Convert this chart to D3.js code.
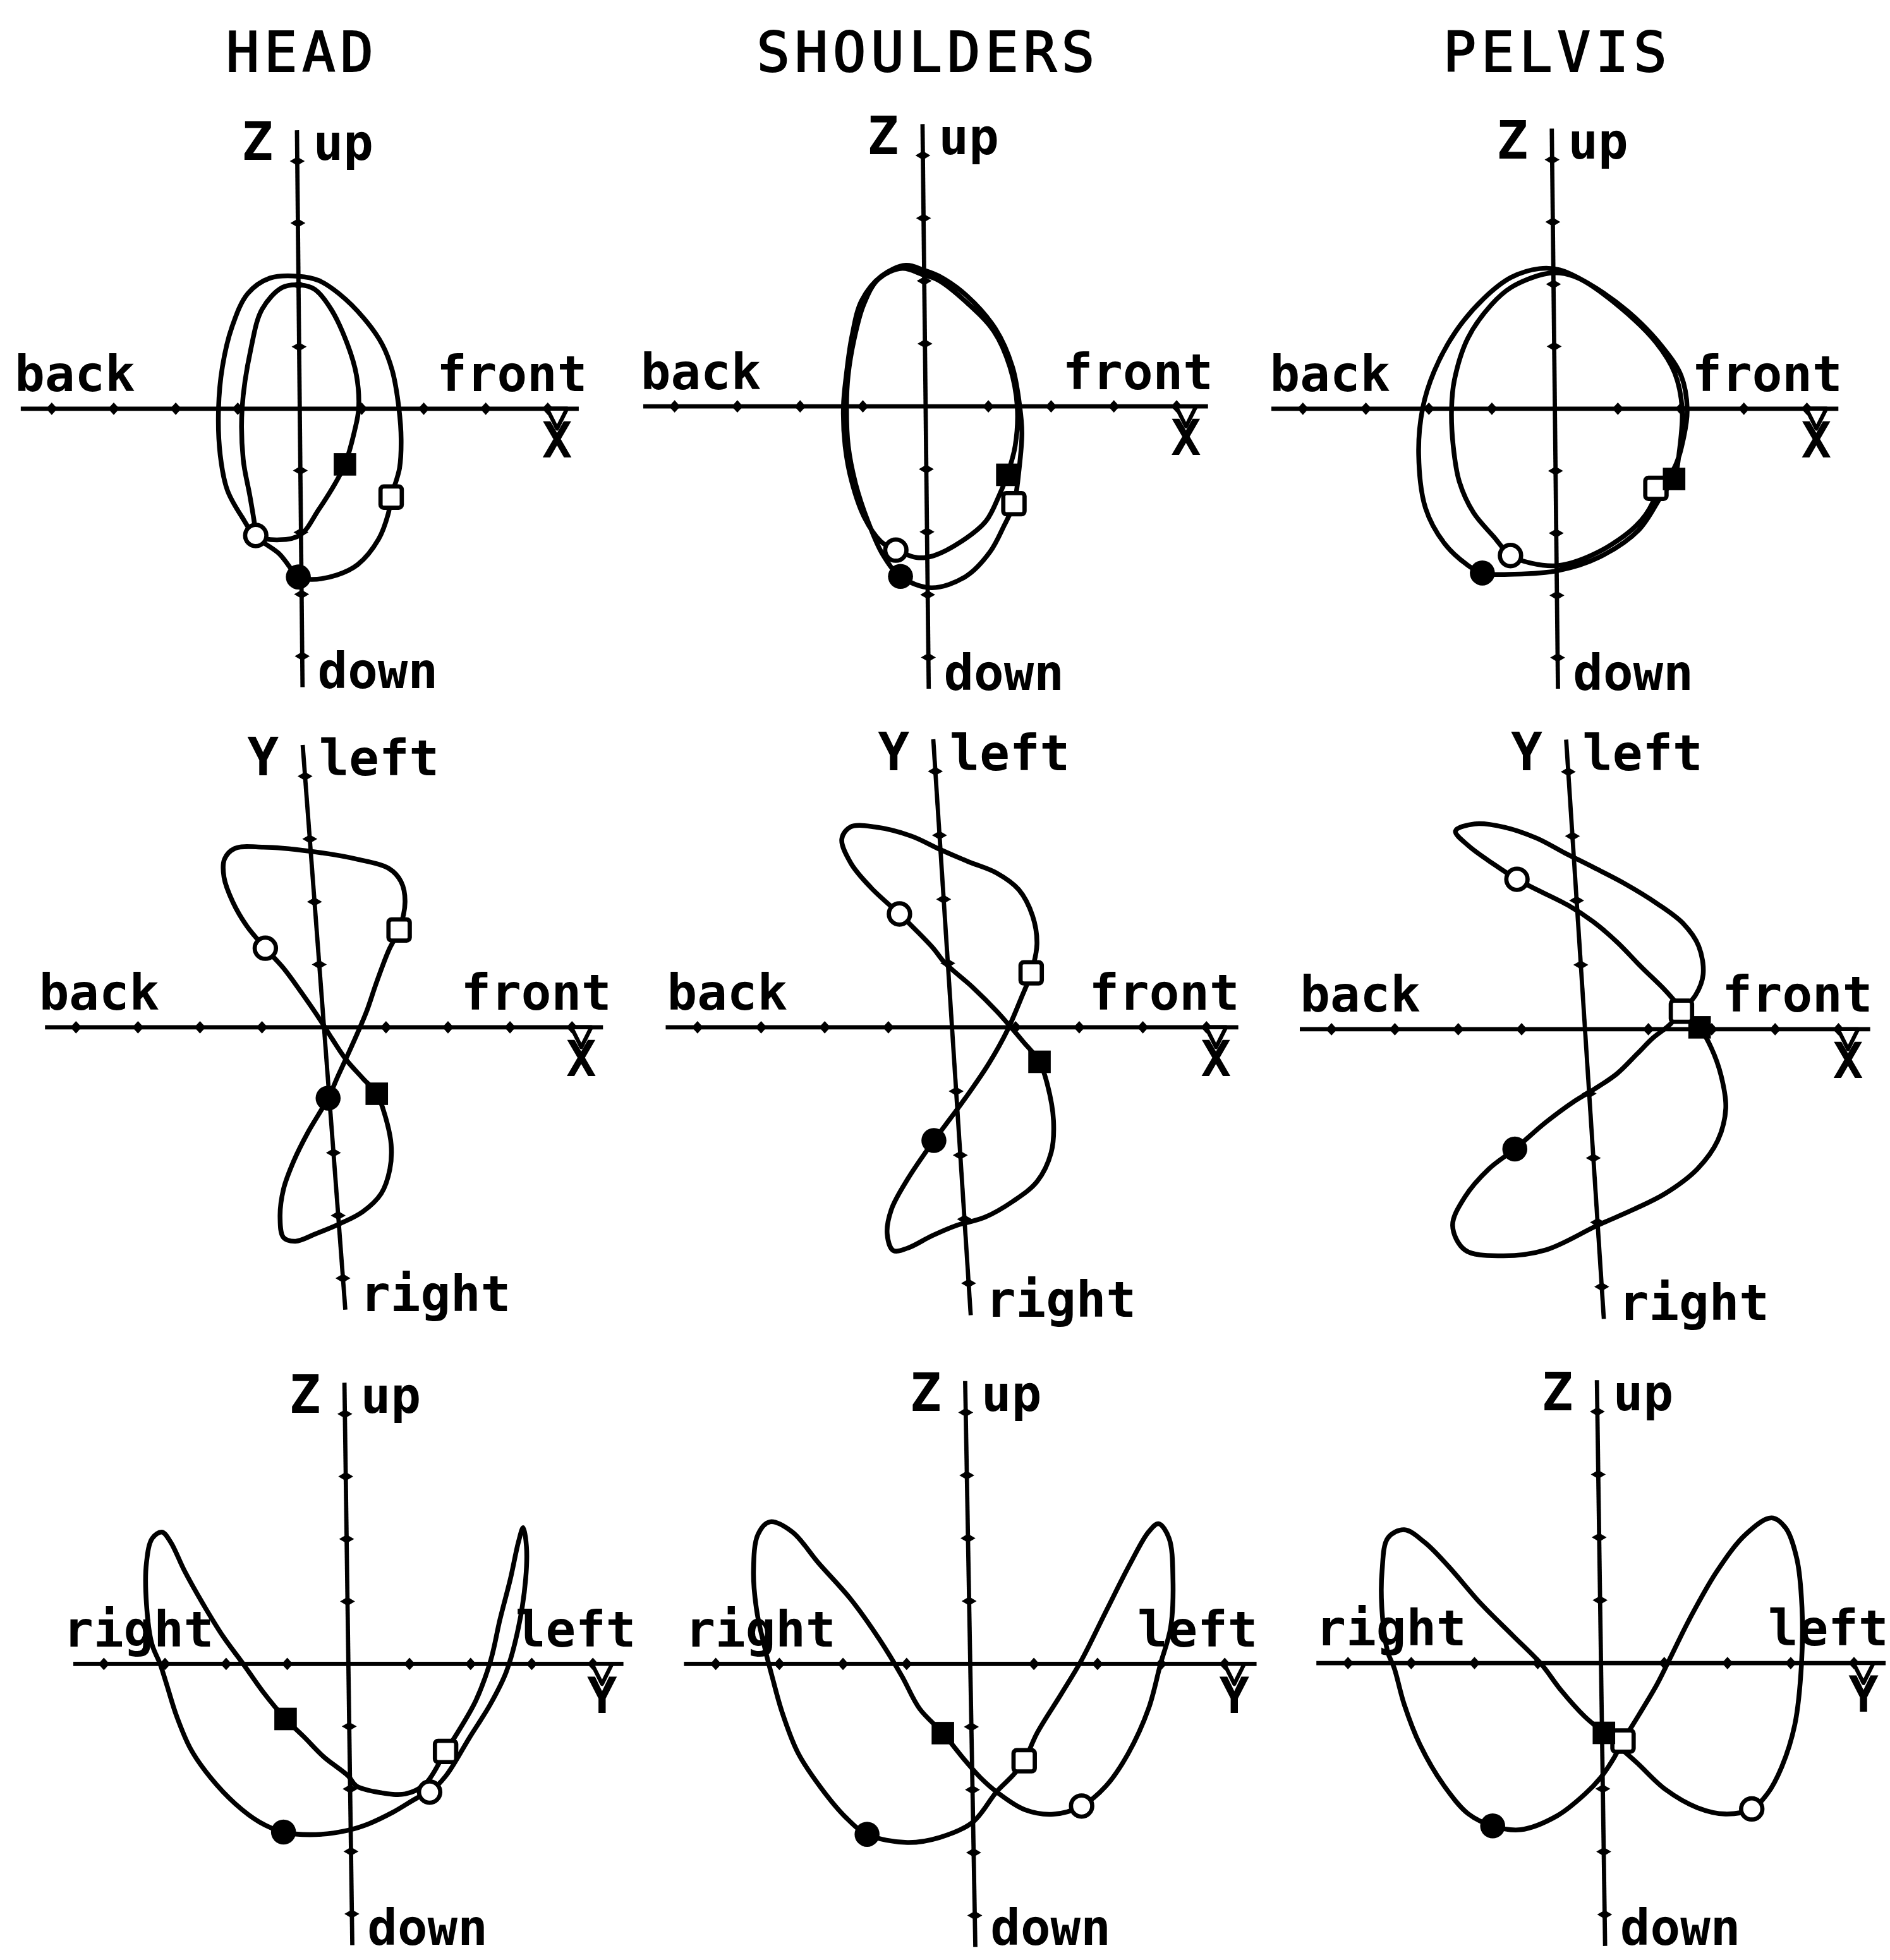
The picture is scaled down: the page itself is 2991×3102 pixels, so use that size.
<!DOCTYPE html>
<html>
<head>
<meta charset="utf-8">
<script src="https://cdn.jsdelivr.net/npm/d3@7"></script>
<style>
  html, body { margin: 0; padding: 0; background: #fff; }
  svg { display: block; }
</style>
</head>
<body>
<svg id="fig" width="2991" height="3102" viewBox="0 0 1512 1568"></svg>
<script>
// ---- labels ---------------------------------------------------------------
const columnTitles = ["HEAD", "SHOULDERS", "PELVIS"];
// wording of the axes for each projection plane (one row per plane)
const planeLeft   = ["back", "back", "right"];
const planeRight  = ["front", "front", "left"];
const planeTopKey = ["Z", "Y", "Z"];
const planeTop    = ["up", "left", "up"];
const planeBottom = ["down", "right", "down"];
const planeEndKey = ["X", "X", "Y"];
const tickValues  = [-4, -3, -2, -1, 1, 2, 3, 4];

// ---- trajectories, in axis units (one unit = one tick) ----------------------
// sagittal plane (X forward, Z up)
const headXZ = [
  [-0.05,-2.72],[0.16,-2.76],[0.57,-2.69],[0.91,-2.52],[1.25,-2.11],[1.41,-1.70],[1.46,-1.43],
  [1.60,-0.96],[1.63,-0.50],[1.60,0.00],[1.50,0.61],[1.34,1.04],[1.05,1.46],[0.65,1.86],[0.33,2.07],[0.00,2.14],
  [-0.46,2.11],[-0.82,1.86],[-1.08,1.32],[-1.24,0.68],[-1.31,0.00],[-1.29,-0.75],[-1.18,-1.32],[-0.95,-1.75],
  [-0.73,-2.05],[-0.35,-2.12],[-0.01,-2.04],[0.29,-1.63],[0.57,-1.19],[0.72,-0.90],
  [0.88,-0.36],[0.95,0.00],[0.92,0.54],[0.78,1.04],[0.52,1.61],[0.26,1.93],[0.03,2.00],
  [-0.26,1.96],[-0.59,1.61],[-0.78,0.96],[-0.93,0.00],[-0.92,-0.82],[-0.82,-1.40],[-0.75,-1.85],
  [-0.73,-2.05],[-0.35,-2.35],[-0.12,-2.65]
];
const headXZMarks = [["fc",-0.05,-2.72],["os",1.46,-1.43],["oc",-0.73,-2.05],["fs",0.72,-0.90]];

const shouldersXZ = [
  [-0.43,-2.71],[0.06,-2.89],[0.61,-2.71],[1.00,-2.32],[1.23,-1.90],[1.39,-1.55],[1.48,-0.99],[1.53,-0.42],
  [1.50,0.00],[1.39,0.63],[1.13,1.23],[0.68,1.76],[0.23,2.08],[0.00,2.17],[-0.29,2.25],[-0.68,2.08],
  [-1.00,1.69],[-1.16,1.13],[-1.26,0.49],[-1.31,0.00],[-1.29,-0.63],[-1.19,-1.20],[-1.00,-1.76],[-0.74,-2.15],
  [-0.50,-2.29],[-0.16,-2.41],[0.10,-2.38],[0.55,-2.15],[0.94,-1.83],[1.16,-1.41],[1.29,-1.09],[1.42,-0.63],
  [1.46,0.00],[1.35,0.63],[1.10,1.20],[0.68,1.65],[0.23,2.01],[-0.02,2.10],[-0.35,2.20],[-0.73,2.03],
  [-0.97,1.62],[-1.13,1.06],[-1.23,0.49],[-1.26,0.00],[-1.24,-0.63],[-1.13,-1.23],[-0.94,-1.83],[-0.71,-2.36]
];
const shouldersXZMarks = [["fc",-0.43,-2.71],["os",1.39,-1.55],["oc",-0.50,-2.29],["fs",1.29,-1.09]];

const pelvisXZ = [
  [-0.73,-2.36],[-0.41,-2.48],[0.03,-2.52],[0.67,-2.30],[1.27,-1.88],[1.53,-1.52],[1.59,-1.28],[1.88,-0.96],
  [2.04,-0.46],[2.10,0.00],[2.01,0.53],[1.72,0.99],[1.18,1.56],[0.54,2.02],[0.10,2.23],[-0.22,2.25],
  [-0.67,2.11],[-1.11,1.77],[-1.56,1.24],[-1.91,0.60],[-2.10,0.00],[-2.17,-0.74],[-2.07,-1.60],[-1.78,-2.16],
  [-1.43,-2.50],[-1.18,-2.64],[-0.67,-2.66],[0.03,-2.60],[0.67,-2.39],[1.31,-1.95],[1.69,-1.38],[1.88,-1.13],
  [1.97,-0.67],[2.02,0.00],[1.91,0.57],[1.62,1.06],[1.05,1.63],[0.41,2.09],[0.10,2.18],[-0.16,2.16],
  [-0.67,1.95],[-0.99,1.67],[-1.37,1.13],[-1.59,0.46],[-1.64,0.00],[-1.62,-0.60],[-1.53,-1.17],[-1.31,-1.67],
  [-0.99,-2.06]
];
const pelvisXZMarks = [["fc",-1.18,-2.64],["os",1.59,-1.28],["oc",-0.73,-2.36],["fs",1.88,-1.13]];

// horizontal plane (X forward, Y left)
const headXY = [
  [-0.85,1.26],[-0.58,0.94],[-0.32,0.55],[-0.06,0.13],[0.12,-0.19],[0.32,-0.52],[0.56,-0.81],[0.77,-1.06],
  [0.88,-1.42],[0.94,-1.87],[0.89,-2.26],[0.72,-2.65],[0.40,-2.94],[0.02,-3.13],[-0.38,-3.29],[-0.72,-3.41],
  [-0.91,-3.35],[-0.94,-3.03],[-0.85,-2.58],[-0.65,-2.13],[-0.39,-1.68],[-0.02,-1.13],[0.17,-0.77],[0.36,-0.42],
  [0.55,-0.06],[0.71,0.26],[0.90,0.71],[1.14,1.23],[1.33,1.55],[1.46,2.00],[1.42,2.32],[1.24,2.53],
  [0.73,2.68],[-0.05,2.81],[-0.76,2.87],[-1.22,2.85],[-1.40,2.68],[-1.43,2.39],[-1.32,2.00],[-1.12,1.61]
];
const headXYMarks = [["oc",-0.85,1.26],["fs",0.77,-1.06],["fc",-0.02,-1.13],["os",1.33,1.55]];

const shouldersXY = [
  [-0.71,1.77],[-0.47,1.52],[-0.21,1.23],[-0.05,1.01],[0.36,0.63],[0.72,0.25],[0.95,-0.03],[1.10,-0.22],
  [1.34,-0.54],[1.44,-0.89],[1.50,-1.46],[1.43,-1.96],[1.18,-2.41],[0.78,-2.72],[0.32,-2.97],[-0.14,-3.10],
  [-0.53,-3.26],[-0.92,-3.45],[-1.15,-3.49],[-1.23,-3.23],[-1.14,-2.85],[-0.85,-2.37],[-0.40,-1.77],[-0.09,-1.39],
  [0.19,-1.04],[0.54,-0.57],[0.86,-0.06],[1.11,0.44],[1.30,0.85],[1.42,1.30],[1.38,1.74],[1.19,2.15],
  [0.86,2.41],[0.42,2.59],[-0.01,2.78],[-0.45,2.99],[-1.01,3.13],[-1.39,3.13],[-1.54,2.94],[-1.42,2.56],
  [-1.13,2.18]
];
const shouldersXYMarks = [["oc",-0.71,1.77],["fs",1.34,-0.54],["fc",-0.40,-1.77],["os",1.30,0.85]];

const pelvisXY = [
  [-0.92,2.33],[-0.62,2.17],[-0.13,1.92],[0.24,1.67],[0.60,1.35],[0.95,0.97],[1.31,0.60],[1.60,0.25],
  [1.81,0.03],[1.97,-0.28],[2.10,-0.72],[2.14,-1.23],[1.98,-1.73],[1.63,-2.17],[1.10,-2.55],[0.58,-2.80],
  [-0.01,-3.05],[-0.85,-3.43],[-1.56,-3.52],[-2.12,-3.43],[-2.29,-3.05],[-2.07,-2.61],[-1.66,-2.17],[-1.23,-1.86],
  [-0.72,-1.45],[-0.26,-1.13],[0.07,-0.94],[0.46,-0.69],[0.80,-0.38],[1.07,-0.13],[1.33,0.06],[1.54,0.28],
  [1.78,0.53],[1.92,0.85],[1.88,1.29],[1.66,1.64],[1.27,1.95],[0.78,2.26],[0.29,2.52],[-0.14,2.74],
  [-0.57,2.97],[-1.07,3.14],[-1.53,3.19],[-1.84,3.08],[-1.65,2.85],[-1.25,2.55]
];
const pelvisXYMarks = [["oc",-0.92,2.33],["fs",1.81,0.03],["fc",-1.23,-1.86],["os",1.54,0.28]];

// frontal plane (Y left, Z up)
const headYZ = [
  [-1.10,-2.69],[-0.57,-2.73],[-0.04,-2.66],[0.29,-2.56],[0.70,-2.37],[1.10,-2.14],[1.30,-2.05],[1.57,-1.79],
  [1.97,-1.17],[2.31,-0.65],[2.58,-0.13],[2.79,0.58],[2.92,1.36],[2.94,1.88],[2.89,2.18],[2.81,1.95],
  [2.67,1.36],[2.49,0.71],[2.33,0.06],[2.08,-0.58],[1.77,-1.10],[1.57,-1.40],[1.23,-1.92],[0.90,-2.08],
  [0.50,-2.06],[0.10,-1.95],[-0.03,-1.79],[-0.42,-1.49],[-0.74,-1.17],[-1.04,-0.88],[-1.40,-0.45],[-1.72,0.00],
  [-2.05,0.45],[-2.37,0.97],[-2.66,1.49],[-2.88,1.95],[-3.02,2.11],[-3.18,2.01],[-3.28,1.62],[-3.29,0.97],
  [-3.21,0.32],[-3.08,0.00],[-2.98,-0.32],[-2.82,-0.84],[-2.60,-1.36],[-2.28,-1.82],[-1.88,-2.24],[-1.49,-2.53]
];
const headYZMarks = [["fc",-1.10,-2.69],["oc",1.30,-2.05],["os",1.57,-1.40],["fs",-1.04,-0.88]];

const shouldersYZ = [
  [-3.11,2.26],[-3.30,2.06],[-3.38,1.48],[-3.34,0.84],[-3.21,0.19],[-3.12,-0.19],[-2.97,-0.77],[-2.73,-1.42],
  [-2.36,-2.00],[-1.99,-2.45],[-1.67,-2.71],[-1.04,-2.84],[-0.53,-2.76],[-0.01,-2.52],[0.38,-2.03],[0.64,-1.77],
  [0.82,-1.54],[1.03,-1.10],[1.42,-0.48],[1.75,0.06],[2.15,0.84],[2.55,1.61],[2.84,2.10],[3.00,2.23],
  [3.16,2.00],[3.21,1.35],[3.16,0.58],[2.99,0.00],[2.79,-0.71],[2.46,-1.42],[2.10,-1.94],[1.71,-2.26],
  [1.26,-2.39],[0.82,-2.32],[0.41,-2.06],[0.13,-1.81],[-0.12,-1.52],[-0.45,-1.10],[-0.81,-0.71],[-1.08,-0.19],
  [-1.42,0.39],[-1.86,1.03],[-2.36,1.61],[-2.76,2.10]
];
const shouldersYZMarks = [["fc",-1.67,-2.71],["os",0.82,-1.54],["oc",1.71,-2.26],["fs",-0.45,-1.10]];

const pelvisYZ = [
  [-3.08,2.12],[-3.34,1.99],[-3.44,1.47],[-3.45,0.83],[-3.37,0.18],[-3.27,-0.08],[-3.12,-0.66],[-2.88,-1.30],
  [-2.51,-1.95],[-2.13,-2.40],[-1.75,-2.59],[-1.31,-2.65],[-0.73,-2.43],[-0.28,-2.08],[-0.03,-1.82],[0.17,-1.53],
  [0.33,-1.24],[0.59,-0.82],[0.88,-0.34],[1.08,0.05],[1.41,0.70],[1.86,1.47],[2.32,2.05],[2.73,2.31],
  [2.95,2.15],[3.12,1.66],[3.19,0.89],[3.17,-0.01],[3.05,-0.98],[2.83,-1.66],[2.60,-2.08],[2.35,-2.32],
  [1.93,-2.40],[1.49,-2.30],[0.99,-2.01],[0.55,-1.59],[0.23,-1.30],[0.03,-1.11],[-0.27,-0.85],[-0.64,-0.43],
  [-0.95,-0.01],[-1.39,0.44],[-1.89,0.95],[-2.39,1.54],[-2.76,1.92]
];
const pelvisYZMarks = [["fc",-1.75,-2.59],["os",0.33,-1.24],["oc",2.35,-2.32],["fs",0.03,-1.11]];

// ---- panel layout: origin, pixels per unit, lean of the vertical axis ------
const panels = [
  { row: 0, col: 0, ox: 239.8,  oy: 326.9,  ux: 49.6, uy: 49.5, lean: 0.010,  path: headXZ,      marks: headXZMarks },
  { row: 0, col: 1, ox: 740.5,  oy: 325.1,  ux: 50.2, uy: 50.2, lean: 0.011,  path: shouldersXZ, marks: shouldersXZMarks },
  { row: 0, col: 2, ox: 1243.9, oy: 326.9,  ux: 50.4, uy: 49.8, lean: 0.011,  path: pelvisXZ,    marks: pelvisXZMarks },
  { row: 1, col: 0, ox: 259.2,  oy: 821.8,  ux: 49.6, uy: 50.2, lean: 0.0755, path: headXY,      marks: headXYMarks },
  { row: 1, col: 1, ox: 761.6,  oy: 821.8,  ux: 50.9, uy: 51.2, lean: 0.065,  path: shouldersXY, marks: shouldersXYMarks },
  { row: 1, col: 2, ox: 1268.0, oy: 823.4,  ux: 50.7, uy: 51.5, lean: 0.065,  path: pelvisXY,    marks: pelvisXYMarks },
  { row: 2, col: 0, ox: 278.7,  oy: 1331.2, ux: 48.9, uy: 50.0, lean: 0.014,  path: headYZ,      marks: headYZMarks },
  { row: 2, col: 1, ox: 776.2,  oy: 1331.2, ux: 50.9, uy: 50.3, lean: 0.018,  path: shouldersYZ, marks: shouldersYZMarks },
  { row: 2, col: 2, ox: 1280.8, oy: 1330.5, ux: 50.6, uy: 50.3, lean: 0.0145, path: pelvisYZ,    marks: pelvisYZMarks }
];

const svg = d3.select("#fig");
svg.append("rect").attr("width", 1512).attr("height", 1568).attr("fill", "#fff");

const FONT = "'DejaVu Sans Mono', 'Liberation Mono', monospace";
const AXIS_W = 3.4, CURVE_W = 3.8;

// column titles
columnTitles.forEach((t, i) => {
  svg.append("text")
    .attr("x", panels[i].ox + 2)
    .attr("y", 57)
    .attr("text-anchor", "middle")
    .attr("font-family", FONT)
    .attr("font-size", 44)
    .attr("letter-spacing", 4)
    .attr("fill", "#000")
    .attr("stroke", "#000")
    .attr("stroke-width", 1.1)
    .text(t);
});

panels.forEach(p => {
  const g = svg.append("g");
  const xs = d3.scaleLinear().domain([0, 1]).range([p.ox, p.ox + p.ux]);
  const ys = d3.scaleLinear().domain([0, 1]).range([p.oy, p.oy - p.uy]);
  // the vertical axis leans slightly: shift x by the vertical offset
  const P = (x, y) => [xs(x) + p.lean * (ys(y) - p.oy), ys(y)];

  const label = (txt, x, y, anchor, size, weight) =>
    g.append("text")
      .attr("x", x).attr("y", y)
      .attr("text-anchor", anchor)
      .attr("font-family", FONT)
      .attr("font-size", size)
      .attr("font-weight", weight)
      .attr("fill", "#000")
      .text(txt);

  // axes
  const hA = P(-4.5, 0), hB = P(4.5, 0), vA = P(0, 4.5), vB = P(0, -4.5);
  g.append("line").attr("x1", hA[0]).attr("y1", hA[1]).attr("x2", hB[0]).attr("y2", hB[1])
    .attr("stroke", "#000").attr("stroke-width", AXIS_W);
  g.append("line").attr("x1", vA[0]).attr("y1", vA[1]).attr("x2", vB[0]).attr("y2", vB[1])
    .attr("stroke", "#000").attr("stroke-width", AXIS_W);

  // diamond ticks
  tickValues.forEach(t => {
    const [hx, hy] = P(t, 0);
    g.append("path")
      .attr("d", `M${hx - 4.5},${hy} L${hx},${hy - 5} L${hx + 4.5},${hy} L${hx},${hy + 5} Z`)
      .attr("fill", "#000");
    const [vx, vy] = P(0, t);
    g.append("path")
      .attr("d", `M${vx - 6},${vy} L${vx},${vy - 3.5} L${vx + 6},${vy} L${vx},${vy + 3.5} Z`)
      .attr("fill", "#000");
  });

  // axis wording
  const r = p.row;
  label(planeLeft[r], p.ox - 228, p.oy - 14, "start", 40, "bold");
  label(planeRight[r], p.ox + 230, p.oy - 14, "end", 40, "bold");
  const topY = ys(4) - 1;
  label(planeTopKey[r], vA[0] - 19, topY, "end", 42, "bold");
  label(planeTop[r], vA[0] + 13, topY, "start", 40, "bold");
  label(planeBottom[r], vB[0] + 12, Math.min(vB[1] + 1, 1556), "start", 40, "bold");

  // end-of-axis letter with its open triangle
  const [ex, ey] = P(4.15, 0);
  label(planeEndKey[r], ex, ey + 39, "middle", 40, "bold");
  g.append("path")
    .attr("d", `M${ex - 8},${ey} L${ex + 8},${ey} L${ex},${ey + 16} Z`)
    .attr("fill", "#fff").attr("stroke", "#000").attr("stroke-width", 3.2)
    .attr("stroke-linejoin", "round");

  // trajectory
  const line = d3.line()
    .x(d => P(d[0], d[1])[0])
    .y(d => P(d[0], d[1])[1])
    .curve(d3.curveCatmullRomClosed.alpha(0.5));
  g.append("path")
    .attr("d", line(p.path))
    .attr("fill", "none")
    .attr("stroke", "#000")
    .attr("stroke-width", CURVE_W)
    .attr("stroke-linejoin", "round")
    .attr("stroke-linecap", "round");

  // event markers
  p.marks.forEach(([type, x, y]) => {
    const [mx, my] = P(x, y);
    if (type === "fc") {
      g.append("circle").attr("cx", mx).attr("cy", my).attr("r", 10).attr("fill", "#000");
    } else if (type === "oc") {
      g.append("circle").attr("cx", mx).attr("cy", my).attr("r", 8.5)
        .attr("fill", "#fff").attr("stroke", "#000").attr("stroke-width", 3.4);
    } else if (type === "fs") {
      g.append("rect").attr("x", mx - 9).attr("y", my - 9).attr("width", 18).attr("height", 18)
        .attr("fill", "#000");
    } else {
      g.append("rect").attr("x", mx - 8.5).attr("y", my - 8.5).attr("width", 17).attr("height", 17)
        .attr("rx", 2.5)
        .attr("fill", "#fff").attr("stroke", "#000").attr("stroke-width", 3.4);
    }
  });
});
</script>
</body>
</html>
